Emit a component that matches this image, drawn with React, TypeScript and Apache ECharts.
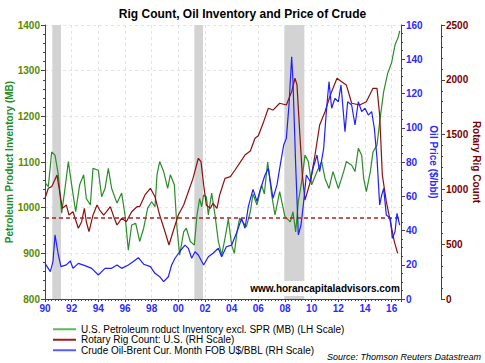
import React, { useEffect, useRef } from "react";
import * as echarts from "echarts";

const titleText = "Rig Count, Oil Inventory and Price of Crude";
const seriesNames = [
  "U.S. Petroleum roduct Inventory excl. SPR (MB) (LH Scale)",
  "Rotary Rig Count: U.S. (RH Scale)",
  "Crude Oil-Brent Cur. Month FOB U$/BBL (RH Scale)",
];

const inventory: [number, number][] = [
  [1990.0, 1055], [1990.25, 1046], [1990.5, 1122], [1990.75, 1115], [1991.0, 1072],
  [1991.25, 988], [1991.5, 1042], [1991.75, 1101], [1992.0, 1050], [1992.3, 991],
  [1992.6, 1050], [1992.9, 1072], [1993.1, 1020], [1993.4, 1006], [1993.6, 1086],
  [1994.0, 1082], [1994.25, 1024], [1994.5, 1042], [1994.75, 1086], [1995.0, 1042],
  [1995.4, 1010], [1995.75, 1032], [1996.0, 984], [1996.25, 907], [1996.5, 962],
  [1996.8, 966], [1997.1, 926], [1997.4, 955], [1997.7, 999], [1998.0, 1013],
  [1998.25, 1002], [1998.4, 1072], [1998.6, 1101], [1998.9, 1079], [1999.2, 1042],
  [1999.4, 1072], [1999.7, 1050], [1999.9, 955], [2000.1, 896], [2000.4, 947],
  [2000.6, 955], [2000.9, 926], [2001.2, 918], [2001.4, 984], [2001.6, 1020],
  [2001.75, 1002], [2001.9, 1028], [2002.1, 1024], [2002.25, 984], [2002.5, 1032],
  [2002.75, 984], [2003.0, 926], [2003.25, 896], [2003.5, 933], [2003.75, 975],
  [2004.0, 918], [2004.2, 900], [2004.4, 947], [2004.6, 977], [2004.9, 966],
  [2005.1, 958], [2005.4, 991], [2005.6, 1030], [2005.9, 1006], [2006.25, 1050],
  [2006.45, 1030], [2006.7, 1100], [2007.0, 1028], [2007.25, 984], [2007.6, 1035],
  [2008.0, 980], [2008.4, 969], [2008.6, 991], [2008.8, 947], [2009.0, 1013],
  [2009.25, 1057], [2009.5, 1115], [2009.75, 1101], [2010.0, 1050], [2010.4, 1079],
  [2010.75, 1101], [2011.0, 1064], [2011.3, 1042], [2011.6, 1079], [2012.0, 1042],
  [2012.4, 1079], [2012.6, 1101], [2013.0, 1093], [2013.25, 1079], [2013.5, 1130],
  [2013.75, 1115], [2013.9, 1064], [2014.1, 1035], [2014.4, 1079], [2014.6, 1122],
  [2014.9, 1137], [2015.1, 1188], [2015.4, 1254], [2015.7, 1294], [2016.0, 1318],
  [2016.25, 1356], [2016.5, 1374], [2016.6, 1387],
];

const rigCount: [number, number][] = [
  [1990.0, 919], [1990.25, 1010], [1990.5, 1025], [1990.9, 1131], [1991.1, 979],
  [1991.3, 827], [1991.6, 858], [1991.8, 766], [1992.1, 796], [1992.5, 645],
  [1992.75, 705], [1992.95, 827], [1993.1, 705], [1993.3, 614], [1993.6, 766],
  [1993.9, 858], [1994.1, 812], [1994.4, 766], [1994.6, 796], [1994.9, 842],
  [1995.2, 736], [1995.4, 675], [1995.75, 736], [1996.1, 705], [1996.5, 796],
  [1996.9, 842], [1997.1, 842], [1997.5, 949], [1997.9, 1010], [1998.25, 933],
  [1998.6, 766], [1999.0, 614], [1999.3, 493], [1999.6, 614], [2000.0, 766],
  [2000.4, 858], [2000.75, 979], [2001.1, 1101], [2001.5, 1284], [2001.7, 1253],
  [2001.9, 1040], [2002.1, 858], [2002.4, 827], [2002.6, 873], [2002.9, 827],
  [2003.1, 949], [2003.5, 1101], [2003.9, 1116], [2004.25, 1177], [2004.6, 1240],
  [2005.0, 1314], [2005.4, 1350], [2005.75, 1466], [2006.0, 1490], [2006.4, 1618],
  [2006.75, 1740], [2007.1, 1724], [2007.6, 1786], [2008.1, 1770], [2008.5, 1892],
  [2008.75, 2014], [2008.9, 1953], [2009.1, 1527], [2009.3, 1131], [2009.5, 903],
  [2009.9, 1070], [2010.25, 1314], [2010.6, 1588], [2011.0, 1709], [2011.4, 1861],
  [2011.9, 2014], [2012.25, 1983], [2012.6, 1953], [2013.0, 1786], [2013.6, 1770],
  [2014.1, 1800], [2014.6, 1922], [2014.9, 1922], [2015.1, 1679], [2015.3, 1131],
  [2015.6, 888], [2015.9, 705], [2016.2, 523], [2016.45, 417],
];

const brent: [number, number][] = [
  [1990.0, 20.8], [1990.4, 16], [1990.6, 22], [1990.75, 37.4], [1991.0, 25.7],
  [1991.2, 18.9], [1991.6, 19.9], [1991.9, 22.2], [1992.1, 17.9], [1992.5, 20.8],
  [1993.0, 19.5], [1993.5, 17.9], [1994.0, 14.0], [1994.5, 17.9], [1995.0, 17.9],
  [1995.4, 19.9], [1995.75, 17.9], [1996.25, 19.9], [1996.6, 21.8], [1997.0, 24.1],
  [1997.4, 20.3], [1997.9, 18.9], [1998.25, 15], [1998.6, 13], [1998.9, 10.1],
  [1999.25, 13], [1999.5, 19.9], [1999.75, 23.8], [2000.1, 27.6], [2000.5, 31.5],
  [2000.75, 29.6], [2001.0, 23.8], [2001.25, 27.6], [2001.5, 25.7], [2001.9, 19.9],
  [2002.25, 24.7], [2002.6, 26.7], [2003.0, 29.6], [2003.25, 24.7], [2003.6, 30.5],
  [2004.0, 31.5], [2004.4, 39.3], [2004.75, 47.1], [2005.0, 41.3], [2005.25, 53.9],
  [2005.6, 64], [2005.9, 57], [2006.1, 62.7], [2006.5, 72.4], [2006.75, 76.3],
  [2007.1, 58.8], [2007.4, 66.6], [2007.6, 76.3], [2007.9, 89.9], [2008.1, 93.8],
  [2008.3, 113.3], [2008.5, 141.5], [2008.6, 126.9], [2008.8, 78.2], [2009.0, 37.4],
  [2009.2, 43.2], [2009.4, 56.8], [2009.6, 72.4], [2009.9, 68.5], [2010.1, 76.3],
  [2010.4, 84.1], [2010.6, 74.3], [2010.9, 88], [2011.1, 109.4], [2011.3, 126.9],
  [2011.5, 111.4], [2011.75, 117.2], [2012.0, 115.2], [2012.2, 125], [2012.5, 97.7],
  [2012.7, 115.2], [2013.0, 113.3], [2013.25, 101.6], [2013.5, 115.2], [2013.75, 109.4],
  [2014.0, 111.4], [2014.25, 107.4], [2014.5, 109.4], [2014.7, 99.7], [2014.9, 82.2],
  [2015.1, 54.9], [2015.25, 60.7], [2015.4, 64.6], [2015.6, 49], [2015.9, 47.1],
  [2016.05, 35.4], [2016.25, 39.3], [2016.4, 50], [2016.6, 43.2],
];

const recessions: [number, number][] = [
  [1990.55, 1991.2],
  [2001.2, 2001.85],
  [2007.95, 2009.45],
];
const dashedRigLevel = 742;

const GREEN = "#2b8c2b";
const RED = "#8b1010";
const BLUE = "#1f1fff";
const LEGEND_COLORS = ["#5cb85c", "#9a2020", "#5a5aff"];
const FONT = "Arial, 'Liberation Sans', sans-serif";

export default function App() {
  const ref = useRef<HTMLDivElement>(null);
  useEffect(() => {
    if (!ref.current) return;
    const chart = echarts.init(ref.current, undefined, { renderer: "svg" });
    const axisLine = { show: true, lineStyle: { color: "#444", width: 1 } };
    const tick = { show: true, length: 4, lineStyle: { color: "#444" } };
    const minor = (n: number) => ({ show: true, splitNumber: n, length: 2, lineStyle: { color: "#444" } });
    const plain = (v: number) => String(v);
    chart.setOption({
      animation: false,
      backgroundColor: "#fff",
      textStyle: { fontFamily: FONT },
      title: {
        text: titleText,
        left: "center",
        top: 3,
        textStyle: { fontSize: 12, fontWeight: "bold", color: "#000", fontFamily: FONT },
      },
      grid: { left: 45, right: 84, top: 25, bottom: 64, containLabel: false, outerBoundsMode: "none" },
      legend: {
        data: seriesNames.map((n, i) => ({ name: n, itemStyle: { color: LEGEND_COLORS[i] } })),
        orient: "vertical",
        left: 48,
        top: 319,
        itemWidth: 23,
        itemHeight: 2,
        itemGap: 0,
        icon: "rect",
        textStyle: { fontSize: 10, color: "#000", lineHeight: 10.5, fontFamily: FONT },
      },
      xAxis: {
        type: "value",
        min: 1990,
        max: 2016.7,
        interval: 2,
        axisLine: { ...axisLine, onZero: false },
        axisTick: { show: true, length: 3, lineStyle: { color: "#444" } },
        minorTick: { show: true, splitNumber: 8, length: 2, lineStyle: { color: "#444" } },
        axisLabel: {
          color: "#2a2aff",
          fontSize: 10,
          fontWeight: "bold",
          margin: 4,
          showMaxLabel: false,
          formatter: (v: number) => {
            const r = Math.round(v);
            if (Math.abs(v - r) > 1e-6 || r % 2 !== 0 || r > 2016) return "";
            return String(r % 100).padStart(2, "0");
          },
        },
        splitLine: { show: true, lineStyle: { color: "#e4e4e4", type: [3, 3] } },
      },
      yAxis: [
        {
          type: "value",
          position: "left",
          min: 800,
          max: 1400,
          interval: 100,
          axisLine,
          axisTick: tick,
          minorTick: minor(5),
          axisLabel: { color: "#5a8a00", fontSize: 10, fontWeight: "bold", margin: 5, formatter: plain },
          splitLine: { show: true, lineStyle: { color: "#e4e4e4", type: [3, 3] } },
          name: "Petroleum Product Inventory (MB)",
          nameLocation: "middle",
          nameRotate: 90,
          nameGap: 31,
          nameMoveOverlap: false,
          nameTextStyle: { color: "#228b22", fontSize: 10, fontWeight: "bold" },
        },
        {
          type: "value",
          position: "right",
          min: 0,
          max: 160,
          interval: 20,
          axisLine,
          axisTick: tick,
          minorTick: minor(4),
          axisLabel: { color: "#2a2aff", fontSize: 10, fontWeight: "bold", margin: 5, formatter: plain },
          splitLine: { show: false },
          name: "Oil Price ($/bbl)",
          nameLocation: "middle",
          nameRotate: -90,
          nameGap: 27,
          nameMoveOverlap: false,
          nameTextStyle: { color: "#2a2aff", fontSize: 10, fontWeight: "bold" },
        },
        {
          type: "value",
          position: "right",
          offset: 40,
          min: 0,
          max: 2500,
          interval: 500,
          axisLine,
          axisTick: tick,
          minorTick: minor(5),
          axisLabel: { color: "#7a0000", fontSize: 10, fontWeight: "bold", margin: 5, formatter: plain },
          splitLine: { show: false },
          name: "Rotary Rig Count",
          nameLocation: "middle",
          nameRotate: -90,
          nameGap: 30,
          nameMoveOverlap: false,
          nameTextStyle: { color: "#7a0000", fontSize: 10, fontWeight: "bold" },
        },
      ],
      series: [
        {
          name: "recessions",
          type: "line",
          data: [],
          z: 1,
          silent: true,
          markArea: {
            silent: true,
            itemStyle: { color: "#d3d3d3" },
            data: recessions.map(([a, b]) => [{ xAxis: a }, { xAxis: b }]),
          },
        },
        {
          name: seriesNames[0],
          type: "line",
          yAxisIndex: 0,
          data: inventory,
          showSymbol: false,
          z: 3,
          lineStyle: { color: GREEN, width: 1.2 },
          itemStyle: { color: GREEN },
        },
        {
          name: seriesNames[1],
          type: "line",
          yAxisIndex: 2,
          data: rigCount,
          showSymbol: false,
          z: 4,
          lineStyle: { color: RED, width: 1.2 },
          itemStyle: { color: RED },
          markLine: {
            silent: true,
            symbol: ["none", "none"],
            label: { show: false },
            lineStyle: { color: "#b02020", type: [4, 3], width: 1.5, opacity: 1 },
            data: [{ yAxis: dashedRigLevel }],
          },
        },
        {
          name: seriesNames[2],
          type: "line",
          yAxisIndex: 1,
          data: brent,
          showSymbol: false,
          z: 5,
          lineStyle: { color: BLUE, width: 1.2 },
          itemStyle: { color: BLUE },
        },
      ],
      graphic: [
        {
          type: "rect",
          shape: { x: 251, y: 281, width: 148, height: 15 },
          style: { fill: "#fff" },
          z: 50,
        },
        {
          type: "text",
          x: 325,
          y: 288.5,
          z: 51,
          style: {
            text: "www.horancapitaladvisors.com",
            fill: "#000",
            font: `bold 10px ${FONT}`,
            textAlign: "center",
            textVerticalAlign: "middle",
          },
        },
        {
          type: "text",
          x: 481,
          y: 357,
          z: 51,
          style: {
            text: "Source: Thomson Reuters Datastream",
            fill: "#000",
            font: `italic 9px ${FONT}`,
            textAlign: "right",
            textVerticalAlign: "middle",
          },
        },
      ],
    });
    return () => chart.dispose();
  }, []);
  return (
    <div
      ref={ref}
      style={{ position: "fixed", left: 0, top: 0, width: 485, height: 363, background: "#fff" }}
    />
  );
}
